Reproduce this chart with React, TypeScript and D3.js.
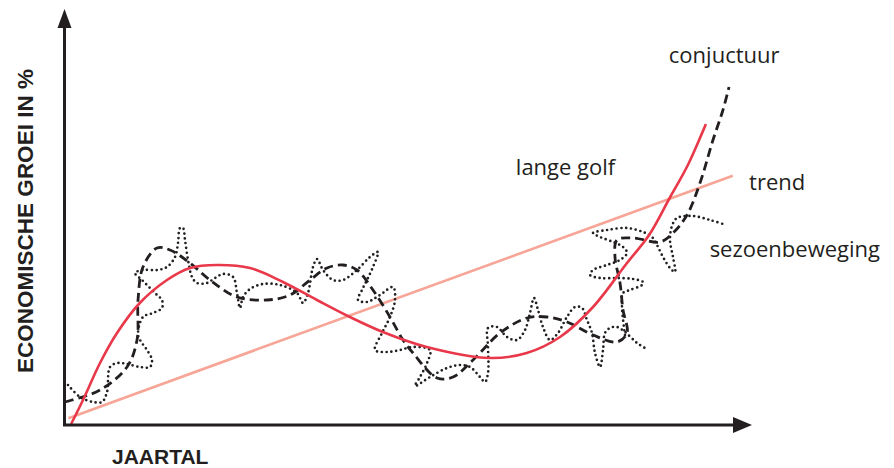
import * as d3 from "d3";

// jaartal (0-100) en groei (0-100)
const langeGolfJaar = [0.9, 2.65, 5.15, 7.65, 11.0, 15.0, 18.4, 22.35, 27.2, 32.05, 37.05, 41.9, 46.75, 53.2, 62.5, 67.9, 72.8, 77.65, 82.65, 85.9, 89.0, 91.6, 94.25];
const langeGolfGroei = [0.75, 6.75, 16, 23.5, 31, 36.75, 39.75, 40.5, 39.75, 36.25, 31.75, 27.5, 23.75, 20, 17.25, 18.5, 22.5, 30, 41, 48, 57.5, 65.5, 75.75];

const trendJaar = [0.5, 98.2];
const trendGroei = [2.2, 62.8];

const conjunctuurJaar = [0, 1.03, 5.15, 9.12, 10.59, 10.74, 11.47, 13.53, 15.44, 18.38, 21.32, 25.29, 29.71, 33.09, 36.03, 38.53, 40.88, 42.94, 45.29, 47.79, 49.71, 51.18, 54.71, 57.06, 60.0, 63.97, 67.94, 70.88, 73.82, 77.65, 81.18, 82.65, 82.06, 81.62, 80.88, 81.18, 83.53, 87.5, 89.41, 91.47, 93.38, 95.29, 96.76, 97.65];
const conjunctuurGroei = [6.25, 6.75, 9.25, 15, 21.75, 31.75, 40, 44.75, 44.25, 41, 36.75, 32.5, 31.75, 33, 36.75, 39.75, 40.5, 39.25, 34.25, 27.5, 21.75, 18.5, 12.25, 12.5, 16.75, 23.5, 27.25, 27.5, 26.25, 23, 21.25, 23.5, 29.25, 36, 42.5, 46.75, 47.25, 46.25, 48.5, 53, 61, 71.75, 79.25, 85];

// seizoensbeweging: twee stukken
const seizoenJaarA = [0.44, 2.21, 4.12, 5.44, 6.18, 6.62, 7.79, 9.12, 11.03, 12.5, 12.79, 12.06, 11.32, 10.74, 11.47, 12.94, 14.26, 14.26, 13.53, 12.5, 11.32, 10.29, 11.47, 13.53, 15.0, 16.18, 16.62, 16.91, 17.35, 17.65, 18.09, 18.68, 19.41, 20.88, 22.06, 23.24, 24.71, 25.29, 25.74, 26.18, 27.21, 29.12, 31.62, 34.12, 35.0, 35.74, 36.47, 37.06, 37.94, 39.41, 40.88, 42.94, 44.85, 46.03, 45.29, 44.41, 43.68, 43.09, 44.41, 46.32, 48.24, 48.53, 47.79, 46.62, 45.59, 47.35, 49.26, 51.18, 53.68, 53.24, 52.21, 51.47, 53.68, 56.18, 58.09, 59.56, 61.03, 61.76, 62.21, 62.21, 62.21, 63.53, 65.0, 66.47, 67.65, 68.38, 68.97, 69.56, 70.29, 71.32, 72.5, 73.82, 75.0, 76.03, 76.76, 77.5, 77.94, 78.68, 79.12, 79.41, 80.15, 81.18, 82.35, 84.12, 85.29];
const seizoenGroeiA = [10.5, 7.5, 6.25, 6.25, 8.75, 15, 16, 15.75, 15, 15, 16.75, 19.25, 21, 23, 27.5, 28.5, 29.75, 31.75, 33, 34.75, 36.75, 38.5, 39.25, 39.25, 40, 42.5, 46, 49.75, 49.75, 46.75, 41.75, 37.5, 36, 36, 37.25, 38.25, 37.5, 33.5, 29.75, 32.5, 34.5, 35.75, 35.5, 33.5, 31, 33.5, 40, 42, 39.25, 36.75, 36.75, 39.25, 42.5, 43.75, 40, 36.75, 34.25, 31.75, 31.25, 33, 35, 31.75, 27.5, 23.5, 19.25, 18.75, 19.25, 20, 19.25, 16, 12.5, 10.25, 12.5, 14.75, 15.5, 15, 12.5, 11.25, 13.5, 20, 24.75, 25, 22.5, 21.75, 24.25, 28.5, 32.25, 29.25, 25, 21.75, 23.5, 27.5, 30, 29.75, 26.75, 23.5, 18.5, 15, 19.25, 23.5, 24.75, 25, 23.75, 21, 19.75];
const seizoenJaarB = [82.35, 81.91, 82.06, 83.09, 84.85, 85.0, 83.53, 81.18, 78.68, 77.21, 77.65, 79.71, 81.62, 82.65, 82.06, 80.59, 78.68, 77.65, 79.71, 82.65, 85.0, 86.32, 87.06, 87.94, 88.97, 89.71, 89.41, 88.97, 89.26, 90.0, 92.35, 94.85, 96.76];
const seizoenGroeiB = [23, 30, 33.5, 34.25, 35.5, 36.25, 37, 37.25, 37.25, 38, 39.25, 40.5, 41.75, 43.5, 45, 46.25, 47.5, 48.5, 49.25, 49.75, 48.75, 47.5, 45.5, 42.5, 39.75, 38.75, 42.5, 46.75, 50.25, 52.25, 52.75, 51.75, 50.75];

const labels = ["conjuctuur", "lange golf", "trend", "sezoenbeweging"];
const labelJaar = [88.8, 66.3, 100.6, 94.8];
const labelGroei = [91, 63, 59.25, 42.5];

const ink = "#231f20";
const red = "#e8384a";
const salmon = "#f6a596";

export default function App() {
  const width = 894, height = 468;
  const x = d3.scaleLinear().domain([0, 100]).range([65, 745]);
  const y = d3.scaleLinear().domain([0, 100]).range([427, 27]);

  const line = d3.line<[number, number]>()
    .x(d => x(d[0]))
    .y(d => y(d[1]))
    .curve(d3.curveCatmullRom.alpha(0.5));

  const zip = (a: number[], b: number[]) => a.map((v, i) => [v, b[i]] as [number, number]);

  const ax0 = x(0) - 0.5, ay0 = 425;

  return (
    <svg width={width} height={height} style={{ position: "absolute", left: 0, top: 0 }}>
      <rect width={width} height={height} fill="#fff" />

      {/* trend */}
      <path d={d3.line<[number, number]>().x(d => x(d[0])).y(d => y(d[1]))(zip(trendJaar, trendGroei)) || ""}
        fill="none" stroke={salmon} strokeWidth={2.6} />

      {/* seizoensbeweging */}
      {[zip(seizoenJaarA, seizoenGroeiA), zip(seizoenJaarB, seizoenGroeiB)].map((pts, i) => (
        <path key={i} d={line(pts) || ""} fill="none" stroke={ink} strokeWidth={2.7}
          strokeLinecap="round" strokeDasharray="0 4.8" />
      ))}

      {/* conjunctuur */}
      <path d={line(zip(conjunctuurJaar, conjunctuurGroei)) || ""} fill="none" stroke={ink}
        strokeWidth={2.8} strokeDasharray="9 5" />

      {/* lange golf */}
      <path d={line(zip(langeGolfJaar, langeGolfGroei)) || ""} fill="none" stroke={red} strokeWidth={2.6} />

      {/* assen */}
      <line x1={ax0} y1={ay0} x2={ax0} y2={25} stroke={ink} strokeWidth={3} />
      <line x1={ax0 - 1.5} y1={ay0} x2={735} y2={ay0} stroke={ink} strokeWidth={3} />
      <path d={`M${ax0},9 L${ax0 - 7},28 L${ax0 + 7},28 Z`} fill={ink} />
      <path d={`M752,${ay0} L733,${ay0 - 8} L733,${ay0 + 8} Z`} fill={ink} />

      <text x={112} y={464} fontFamily="Liberation Sans, Arial, sans-serif" fontWeight="bold"
        fontSize={21} fill={ink}>JAARTAL</text>
      <text transform={`translate(33,${221}) rotate(-90)`} textAnchor="middle"
        fontFamily="Liberation Sans, Arial, sans-serif" fontWeight="bold" fontSize={22.5} fill={ink}>
        ECONOMISCHE GROEI IN %
      </text>

      {labels.map((t, i) => (
        <text key={t} x={x(labelJaar[i])} y={y(labelGroei[i])} fontFamily="'Open Sans', sans-serif"
          fontSize={22} fill={ink}>{t}</text>
      ))}
    </svg>
  );
}
